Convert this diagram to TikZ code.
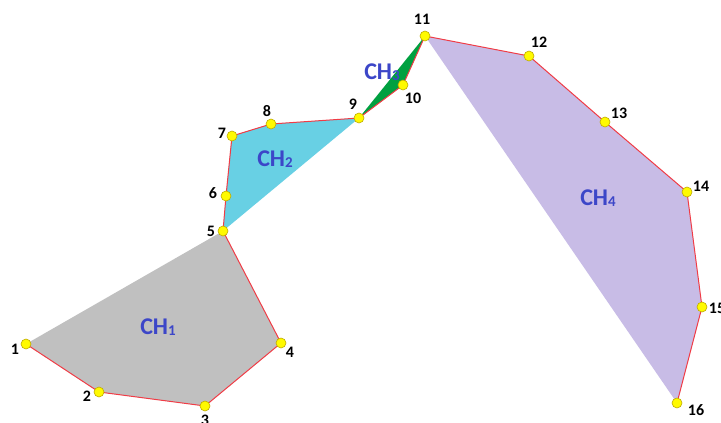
\documentclass[tikz,border=0pt]{standalone}
\usepackage{fontspec}
\setmainfont{Carlito}
\definecolor{hullgray}{RGB}{192,192,192}
\definecolor{hullcyan}{RGB}{104,208,228}
\definecolor{hullgreen}{RGB}{0,160,64}
\definecolor{hullpurple}{RGB}{200,188,230}
\definecolor{edgered}{RGB}{240,60,70}
\definecolor{dotyellow}{RGB}{255,250,0}
\definecolor{dotrim}{RGB}{190,170,0}
\definecolor{chblue}{RGB}{60,70,200}
\begin{document}
\begin{tikzpicture}[x=1pt,y=-1pt,
  pt/.style={circle,fill=dotyellow,draw=dotrim,line width=0.6pt,inner sep=0pt,minimum size=10pt},
  num/.style={font=\bfseries\fontsize{16}{16}\selectfont,text=black,inner sep=0pt},
  chlab/.style={font=\bfseries\fontsize{24}{24}\selectfont,text=chblue,inner sep=0pt},
  redge/.style={draw=edgered,line width=1pt}]
\useasboundingbox (0,0) rectangle (721,423);
% point coordinates
\coordinate (p1) at (26,344);
\coordinate (p2) at (99,392);
\coordinate (p3) at (205,406);
\coordinate (p4) at (281,343);
\coordinate (p5) at (223,231);
\coordinate (p6) at (226,196);
\coordinate (p7) at (232,136);
\coordinate (p8) at (271,124);
\coordinate (p9) at (359,118);
\coordinate (p10) at (403,85);
\coordinate (p11) at (425,36);
\coordinate (p12) at (529,56);
\coordinate (p13) at (605,122);
\coordinate (p14) at (687,192);
\coordinate (p15) at (702,307);
\coordinate (p16) at (677,403);
% hull fills
\fill[hullgray] (p1) -- (p2) -- (p3) -- (p4) -- (p5) -- cycle;
\fill[hullcyan] (p5) -- (p6) -- (p7) -- (p8) -- (p9) -- cycle;
\fill[hullgreen] (p9) -- (p10) -- (p11) -- cycle;
\fill[hullpurple] (p11) -- (p12) -- (p13) -- (p14) -- (p15) -- (p16) -- cycle;
% red chain
\draw[redge] (p1) -- (p2) -- (p3) -- (p4) -- (p5) -- (p6) -- (p7) -- (p8) -- (p9) -- (p10) -- (p11) -- (p12) -- (p13) -- (p14) -- (p15) -- (p16);
% dots
\foreach \i in {1,...,16} \node[pt] (n\i) at (p\i) {};
% numbers
\node[num] (l1) at (15,349) {1};
\node[num] (l2) at (87,396) {2};
\node[num] (l3) at (205,420) {3};
\node[num] (l4) at (290,352) {4};
\node[num] (l5) at (211,231) {5};
\node[num] (l6) at (213,193) {6};
\node[num] (l7) at (222,133) {7};
\node[num] (l8) at (267,111) {8};
\node[num] (l9) at (353,104) {9};
\node[num] (l10) at (413,98) {10};
\node[num] (l11) at (422,19) {11};
\node[num] (l12) at (539,42) {12};
\node[num] (l13) at (619,113) {13};
\node[num] (l14) at (701,186) {14};
\node[num] (l15) at (717,308) {15};
\node[num] (l16) at (696,410) {16};
% hull labels
\node[chlab] (c1) at (158,327) {CH\raisebox{-0.5pt}{\fontsize{15}{15}\selectfont 1}};
\node[chlab] (c2) at (275,159) {CH\raisebox{-0.5pt}{\fontsize{15}{15}\selectfont 2}};
\node[chlab] (c3) at (382,72) {CH\raisebox{-0.5pt}{\fontsize{15}{15}\selectfont 3}};
\node[chlab] (c4) at (598,198) {CH\raisebox{-0.5pt}{\fontsize{15}{15}\selectfont 4}};
\end{tikzpicture}
\end{document}
